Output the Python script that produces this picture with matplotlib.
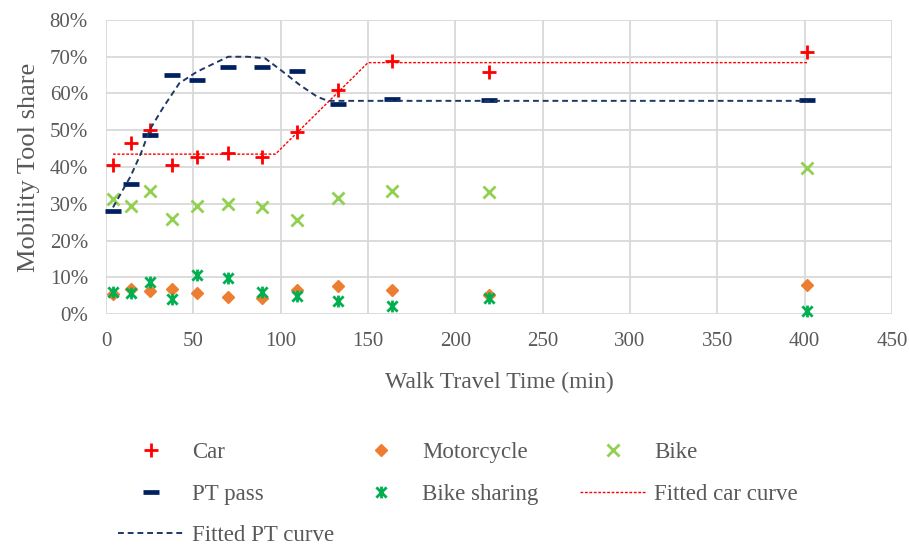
import matplotlib.pyplot as plt
from matplotlib.path import Path
from matplotlib.lines import Line2D
from matplotlib.ticker import PercentFormatter

plt.rcParams['font.family'] = ['Liberation Serif', 'DejaVu Serif']

# walk travel time (min) of each group
time = [4, 14.5, 25, 37.5, 52, 70, 89.5, 109.5, 133, 164, 219.5, 401.5]

# mobility tool shares (%)
car = [40.5, 46.4, 50.1, 40.5, 42.8, 43.7, 42.8, 49.4, 60.9, 68.8, 65.9, 71.2]
moto = [5.4, 6.8, 6.3, 6.8, 5.8, 4.7, 4.4, 6.5, 7.6, 6.5, 5.2, 7.9]
bike = [31.2, 29.5, 33.6, 25.9, 29.5, 29.9, 29.0, 25.6, 31.5, 33.6, 33.3, 39.8]
pt = [28.1, 35.5, 48.7, 65.1, 63.7, 67.1, 67.1, 66.1, 57.1, 58.4, 58.2, 58.2]
bikeshare = [6.1, 5.6, 8.6, 4.0, 10.6, 9.7, 6.1, 4.9, 3.5, 2.2, 4.3, 0.9]

# fitted curves
car_fit_x = [4, 97, 150, 401.5]
car_fit_y = [43.5, 43.5, 68.4, 68.4]
pt_fit_x = [4, 14, 20, 25, 33, 42, 52, 62, 70, 81, 91, 100, 111, 121, 127, 401.5]
pt_fit_y = [29, 37.4, 43.7, 50.1, 56.4, 62.8, 65.9, 68.2, 70.0, 70.0, 69.6, 66.4, 62.3, 59.1, 58.0, 58.0]

grey = '#595959'
red = '#FF0000'
navy = '#002060'
orange = '#ED7D31'
lgreen = '#92D050'
green = '#00B050'

# excel style "star": X plus a vertical bar
star = Path([(-1, -1), (1, 1), (-1, 1), (1, -1), (0, -1.15), (0, 1.15)],
            [Path.MOVETO, Path.LINETO] * 3)

sty_car = dict(ls='none', marker='+', ms=9.5, mew=2, color=red)
sty_moto = dict(ls='none', marker='D', ms=6, color=orange)
sty_bike = dict(ls='none', marker='x', ms=8.5, mew=2, color=lgreen)
sty_pt = dict(ls='none', marker='_', ms=11, mew=3.4, color=navy)
sty_bs = dict(ls='none', marker=star, ms=8.5, mew=2, color=green)
sty_cfit = dict(color=red, lw=1, ls=(0, (2, 1.2)))
sty_pfit = dict(color='#1F3864', lw=1.4, ls=(0, (3, 2)))

fig = plt.figure(figsize=(9.09, 5.47), dpi=100)
ax = fig.add_axes([106/909, 1-314/547, 786/909, 294/547])

ax.plot(time, car, clip_on=False, zorder=3, **sty_car)
ax.plot(time, moto, clip_on=False, zorder=3, **sty_moto)
ax.plot(time, bike, clip_on=False, zorder=3, **sty_bike)
ax.plot(time, pt, clip_on=False, zorder=3, **sty_pt)
ax.plot(time, bikeshare, clip_on=False, zorder=3, **sty_bs)
ax.plot(car_fit_x, car_fit_y, zorder=4, **sty_cfit)
ax.plot(pt_fit_x, pt_fit_y, zorder=4, **sty_pfit)

ax.set_xlim(0, 450)
ax.set_ylim(0, 80)
ax.set_xticks(range(0, 451, 50))
ax.set_yticks(range(0, 81, 10))
ax.yaxis.set_major_formatter(PercentFormatter(decimals=0))
ax.grid(True, color='#D9D9D9', lw=1.3)
ax.set_axisbelow(True)
for s in ax.spines.values():
    s.set_visible(False)
ax.tick_params(length=0, labelsize=15, labelcolor=grey, pad=13)
ax.set_xlabel('Walk Travel Time (min)', fontsize=17, color=grey, labelpad=15)
ax.set_ylabel('Mobility Tool share', fontsize=19, color=grey, labelpad=7)

# legend, three fixed-width columns like excel
cols = [
    (118, [sty_car, sty_pt, sty_pfit], ['Car', 'PT pass', 'Fitted PT curve']),
    (348, [sty_moto, sty_bs], ['Motorcycle', 'Bike sharing']),
    (580, [sty_bike, sty_cfit], ['Bike', 'Fitted car curve']),
]
for x0, stys, labels in cols:
    hs = [Line2D([], [], **s) for s in stys]
    fig.legend(hs, labels, loc='upper left', bbox_to_anchor=(x0/909, 1-442/547),
               frameon=False, fontsize=16.5, labelcolor=grey, numpoints=1,
               handlelength=2.9, handletextpad=0.35, labelspacing=0.9,
               borderpad=0, borderaxespad=0)

fig.savefig('out.png', dpi=100)
